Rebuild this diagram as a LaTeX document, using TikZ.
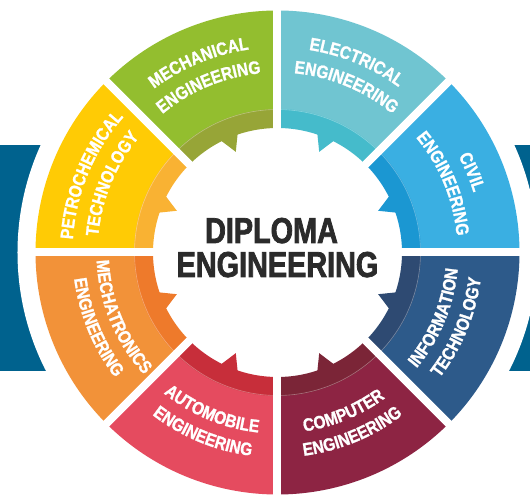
\documentclass[tikz,border=0pt]{standalone}
\usepackage{fontspec}
\newfontfamily\segfam[FakeStretch=0.86,FakeBold=1.2]{Liberation Sans}
\newfontfamily\titlefam[FakeStretch=0.8,FakeBold=2]{Liberation Sans}
\usetikzlibrary{decorations.text}
\definecolor{bgblue}{HTML}{00628E}
\definecolor{civL}{HTML}{3AAFE2}\definecolor{civD}{HTML}{1B97D2}
\definecolor{telL}{HTML}{70C5D1}\definecolor{telD}{HTML}{45BBCB}
\definecolor{grnL}{HTML}{93BE2F}\definecolor{grnD}{HTML}{97A537}
\definecolor{yelL}{HTML}{FFCB05}\definecolor{yelD}{HTML}{F9B233}
\definecolor{orgL}{HTML}{F29239}\definecolor{orgD}{HTML}{EE7A2B}
\definecolor{redL}{HTML}{E54B5F}\definecolor{redD}{HTML}{C72E3A}
\definecolor{marL}{HTML}{8D2443}\definecolor{marD}{HTML}{7B2537}
\definecolor{itL}{HTML}{2D5A8A}\definecolor{itD}{HTML}{2E4A72}
\definecolor{titlegray}{HTML}{2B2B2B}
\newcommand\labfmt{\segfam\bfseries\fontsize{18}{18}\selectfont\color{white}}
\tikzset{
  lab/.style={decorate, decoration={text along path, text align=center, text={|\labfmt|#1}}},
  titletext/.style={anchor=base, inner sep=0pt, text=titlegray, font=\titlefam\bfseries\fontsize{36}{36}\selectfont}
}
\begin{document}
\begin{tikzpicture}[x=1pt,y=1pt]
\useasboundingbox (-277.5,-244.5) rectangle (252.5,252.5);
\fill[white] (-277.5,-244.5) rectangle (252.5,252.5);
\fill[bgblue] (-277.5,-118.5) rectangle (252.5,107);
\fill[white] (0,0) circle[radius=260];
\foreach \a/\cl/\cd/\ax/\sg in {0/civL/civD/0/1, 45/telL/telD/90/-1, 90/grnL/grnD/90/1, 135/yelL/yelD/180/-1, 180/orgL/orgD/180/1, 225/redL/redD/270/-1, 270/marL/marD/270/1, 315/itL/itD/360/-1}{
  \fill[\cl] (\a:143) arc[start angle=\a, end angle=\a+45, radius=143] -- ({\a+45}:242) arc[start angle=\a+45, end angle=\a, radius=242] -- cycle;
  \fill[\cd] (\a:124.5) arc[start angle=\a, end angle=\a+45, radius=124.5] -- ({\a+45}:143.5) arc[start angle=\a+45, end angle=\a, radius=143.5] -- cycle;
  \fill[\cd] ({\ax+(\sg)*18.5}:130) -- ({\ax+(\sg)*18.5}:125.5) -- ({\ax+(\sg)*22.5}:109) -- ({\ax+(\sg)*26.5}:124) -- ({\ax+(\sg)*26.5}:130) -- cycle;
  \draw[white, opacity=0.35, line width=0.6] (\a:143) arc[start angle=\a, end angle=\a+45, radius=143];
}
\foreach \g in {0,45,...,315} \draw[white, line width=8] (0,0) -- (\g:252);
% top half labels (clockwise, tops outward)
\path[lab=MECHANICAL] (135:205) arc[start angle=135, end angle=90, radius=205];
\path[lab=ENGINEERING] (135:180) arc[start angle=135, end angle=90, radius=180];
\path[lab=ELECTRICAL] (90:205) arc[start angle=90, end angle=45, radius=205];
\path[lab=ENGINEERING] (90:180) arc[start angle=90, end angle=45, radius=180];
\path[lab=CIVIL] (45:205) arc[start angle=45, end angle=0, radius=205];
\path[lab=ENGINEERING] (45:180) arc[start angle=45, end angle=0, radius=180];
\path[lab=PETROCHEMICAL] (180:205) arc[start angle=180, end angle=135, radius=205];
\path[lab=TECHNOLOGY] (180:180) arc[start angle=180, end angle=135, radius=180];
% bottom half labels (counterclockwise, tops inward)
\path[lab=INFORMATION] (-45:181) arc[start angle=-45, end angle=0, radius=181];
\path[lab=TECHNOLOGY] (-45:205) arc[start angle=-45, end angle=0, radius=205];
\path[lab=COMPUTER] (-90:181) arc[start angle=-90, end angle=-45, radius=181];
\path[lab=ENGINEERING] (-90:205) arc[start angle=-90, end angle=-45, radius=205];
\path[lab=AUTOMOBILE] (-135:181) arc[start angle=-135, end angle=-90, radius=181];
\path[lab=ENGINEERING] (-135:205) arc[start angle=-135, end angle=-90, radius=205];
\path[lab=MECHATRONICS] (180:181) arc[start angle=180, end angle=225, radius=181];
\path[lab=ENGINEERING] (180:205) arc[start angle=180, end angle=225, radius=205];
% title
\node[titletext] (t1) at (-6,9.5) {DIPLOMA};
\node[titletext] (t2) at (0,-24.5) {ENGINEERING};
\end{tikzpicture}
\end{document}
